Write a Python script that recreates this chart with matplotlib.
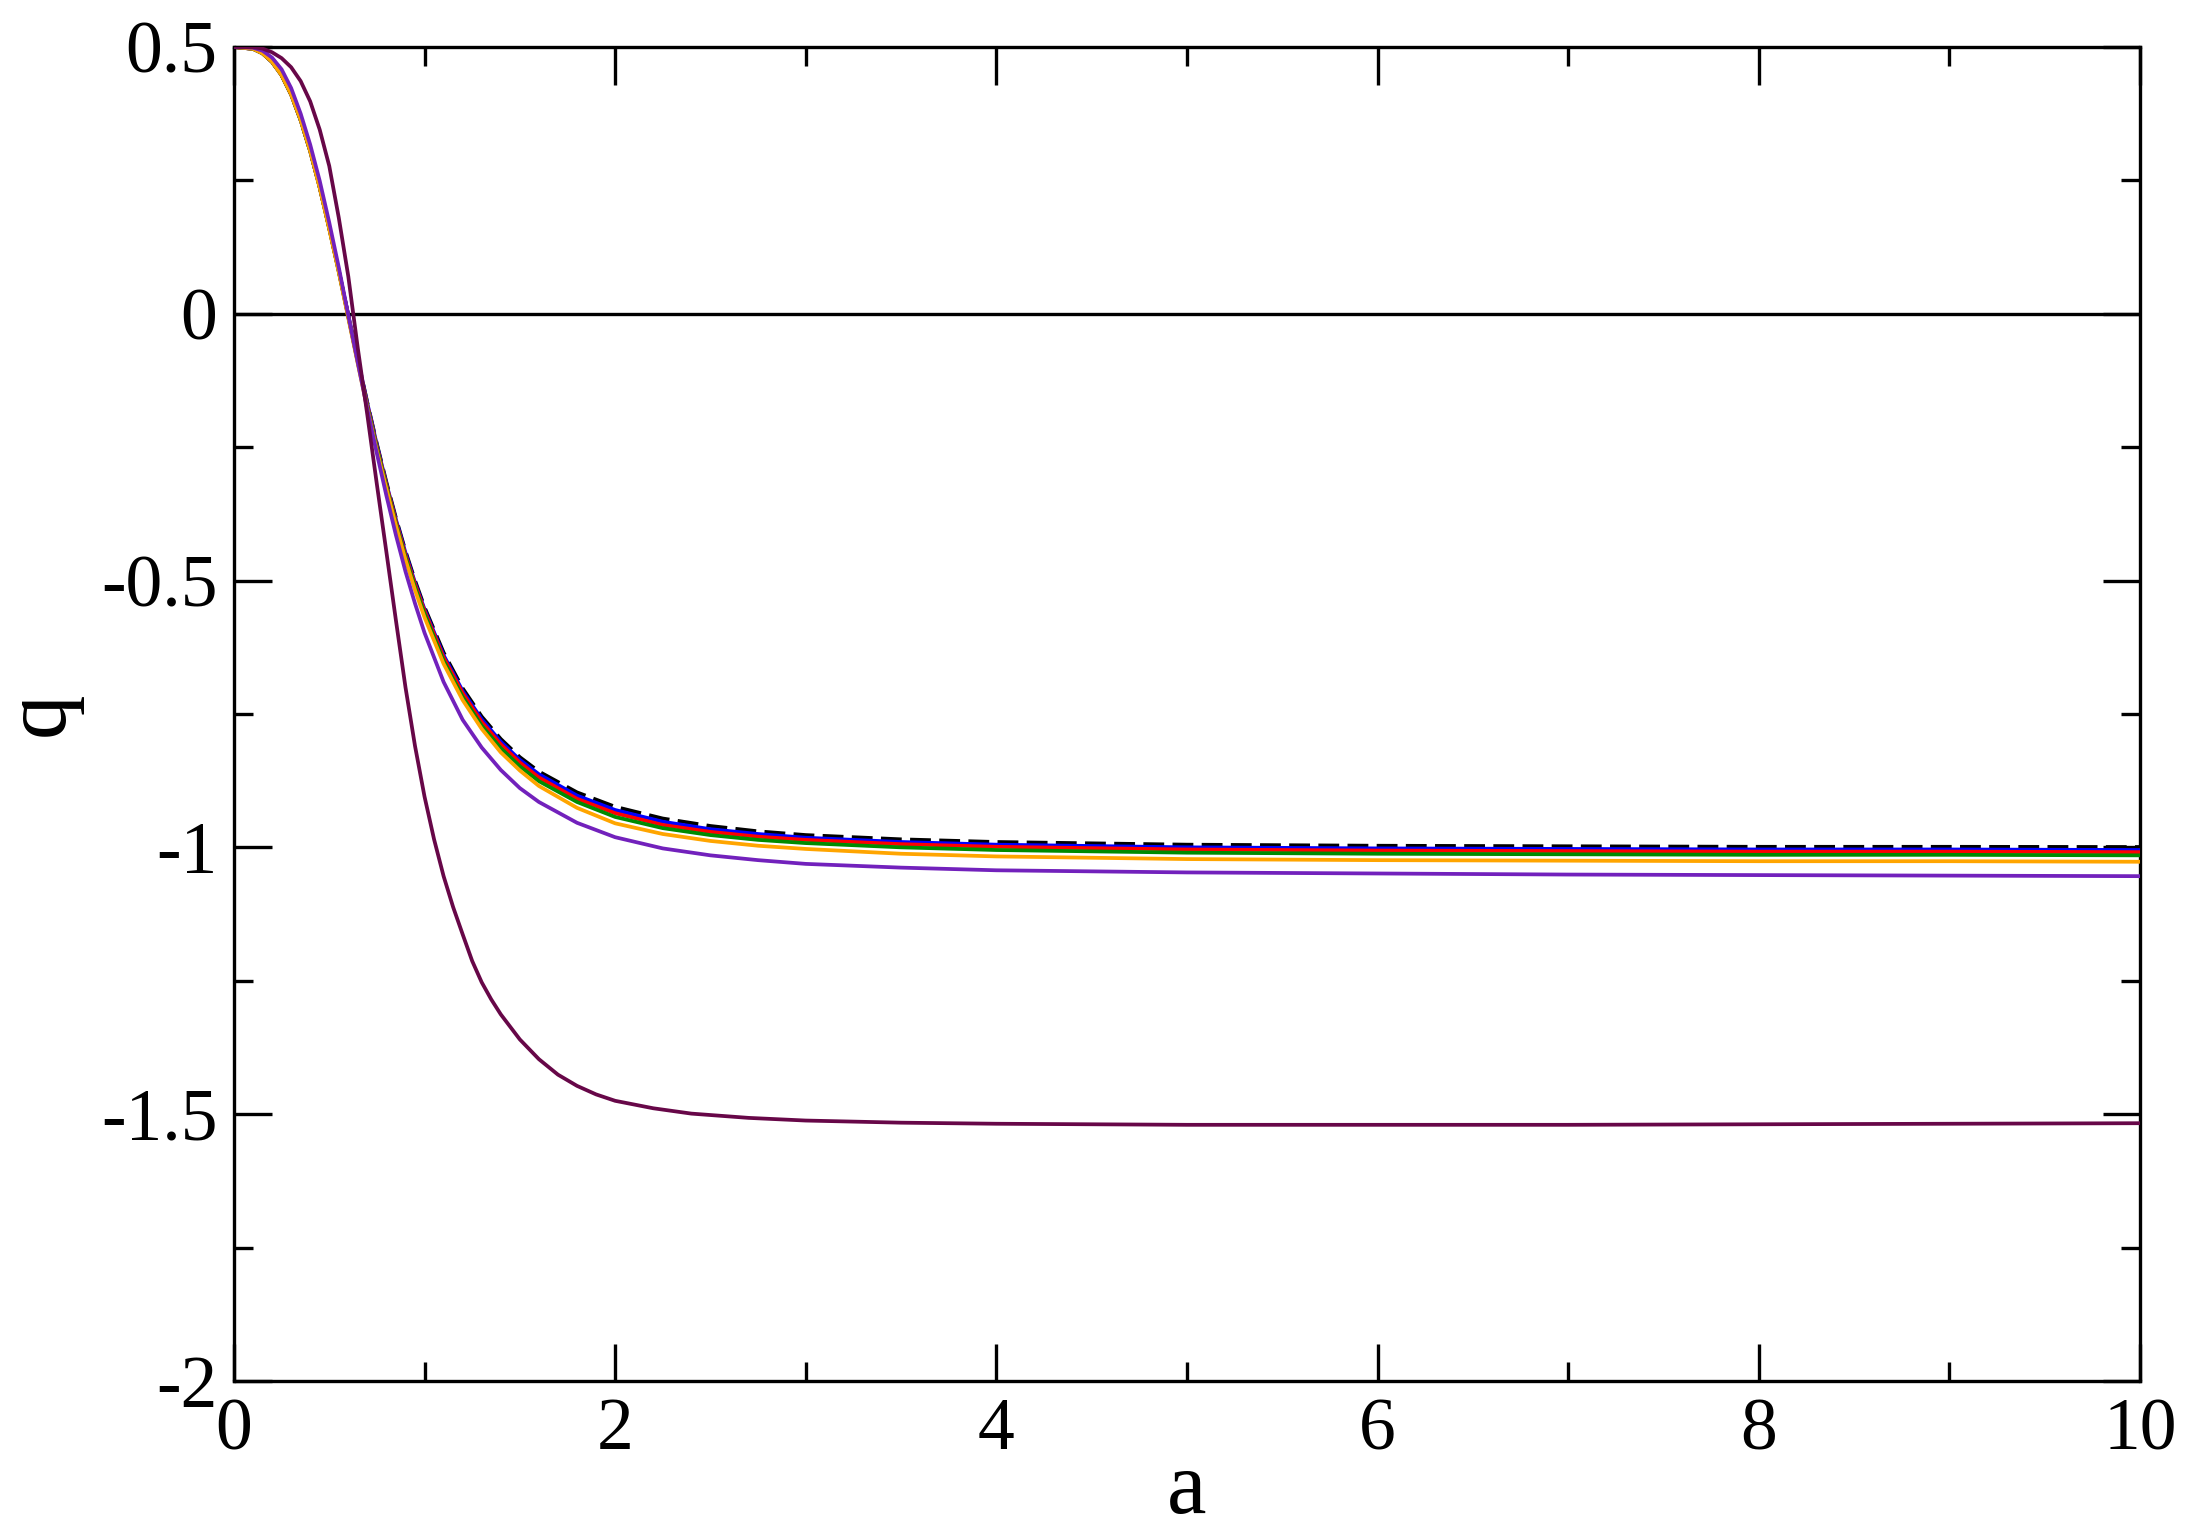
import matplotlib
matplotlib.use("Agg")
import matplotlib.pyplot as plt
from matplotlib.ticker import MultipleLocator, FuncFormatter

plt.rcParams["font.family"] = ["Liberation Serif", "DejaVu Serif"]
plt.rcParams["axes.unicode_minus"] = False
plt.rcParams["lines.scale_dashes"] = False

# scale factor a (grid shared by the upper bundle of curves)
a_vals = [0, 0.1, 0.15, 0.2, 0.25, 0.3, 0.35, 0.4, 0.45, 0.5, 0.55, 0.6, 0.65,
          0.7, 0.75, 0.8, 0.85, 0.9, 0.95, 1.0, 1.1, 1.2, 1.3, 1.4, 1.5, 1.6,
          1.8, 2.0, 2.25, 2.5, 2.75, 3.0, 3.5, 4.0, 5.0, 6.0, 7.0, 8.0, 9.0, 10.0]

# deceleration parameter q
q_ref = [0.5, 0.4965, 0.488, 0.472, 0.447, 0.411, 0.363, 0.305, 0.237, 0.161,
         0.081, -0.003, -0.086, -0.167, -0.244, -0.316, -0.383, -0.445, -0.500,
         -0.550, -0.635, -0.702, -0.755, -0.797, -0.831, -0.858, -0.897, -0.924,
         -0.946, -0.960, -0.970, -0.977, -0.985, -0.990, -0.995, -0.997, -0.998,
         -0.999, -0.999, -0.9994]
q_blue = [0.5, 0.4965, 0.488, 0.472, 0.447, 0.411, 0.363, 0.305, 0.237, 0.161,
          0.081, -0.003, -0.087, -0.168, -0.246, -0.319, -0.386, -0.448, -0.504,
          -0.554, -0.640, -0.707, -0.760, -0.802, -0.836, -0.863, -0.903, -0.930,
          -0.952, -0.966, -0.975, -0.982, -0.990, -0.995, -1.000, -1.002, -1.003,
          -1.004, -1.004, -1.005]
q_red = [0.5, 0.4965, 0.488, 0.472, 0.447, 0.411, 0.363, 0.305, 0.237, 0.160,
         0.080, -0.005, -0.089, -0.171, -0.249, -0.321, -0.389, -0.452, -0.507,
         -0.557, -0.644, -0.711, -0.765, -0.807, -0.841, -0.869, -0.909, -0.936,
         -0.958, -0.971, -0.980, -0.986, -0.994, -0.999, -1.004, -1.006, -1.007,
         -1.008, -1.008, -1.009]
q_green = [0.5, 0.4965, 0.488, 0.472, 0.447, 0.411, 0.363, 0.305, 0.237, 0.160,
           0.079, -0.006, -0.091, -0.174, -0.252, -0.324, -0.393, -0.456, -0.512,
           -0.562, -0.650, -0.718, -0.772, -0.814, -0.848, -0.876, -0.915, -0.943,
           -0.964, -0.977, -0.986, -0.992, -1.000, -1.005, -1.010, -1.012, -1.013,
           -1.014, -1.014, -1.015]
q_orange = [0.5, 0.4965, 0.488, 0.472, 0.447, 0.411, 0.363, 0.305, 0.236, 0.159,
            0.078, -0.008, -0.094, -0.178, -0.257, -0.328, -0.397, -0.461, -0.518,
            -0.569, -0.656, -0.724, -0.778, -0.822, -0.856, -0.885, -0.926, -0.955,
            -0.975, -0.988, -0.997, -1.003, -1.012, -1.017, -1.022, -1.024, -1.025,
            -1.026, -1.026, -1.027]
q_purple = [0.5, 0.4985, 0.493, 0.480, 0.458, 0.423, 0.375, 0.317, 0.249, 0.171,
            0.087, -0.003, -0.092, -0.179, -0.262, -0.341, -0.415, -0.483, -0.543,
            -0.598, -0.690, -0.761, -0.813, -0.855, -0.889, -0.915, -0.954, -0.981,
            -1.002, -1.015, -1.024, -1.031, -1.038, -1.043, -1.047, -1.049, -1.051,
            -1.052, -1.053, -1.054]

# lowest curve, read on a finer grid around its knee
a_maroon = [0, 0.1, 0.15, 0.2, 0.25, 0.3, 0.35, 0.4, 0.45, 0.5, 0.55, 0.6, 0.65,
            0.7, 0.75, 0.8, 0.85, 0.9, 0.95, 1.0, 1.05, 1.1, 1.15, 1.2, 1.25, 1.3,
            1.35, 1.4, 1.5, 1.6, 1.7, 1.8, 1.9, 2.0, 2.2, 2.4, 2.7, 3.0, 3.5, 4.0,
            5.0, 6.0, 7.0, 8.0, 9.0, 10.0]
q_maroon = [0.5, 0.4995, 0.497, 0.490, 0.479, 0.462, 0.436, 0.398, 0.345, 0.277,
            0.180, 0.070, -0.065, -0.190, -0.320, -0.447, -0.575, -0.700, -0.810,
            -0.905, -0.985, -1.054, -1.112, -1.163, -1.213, -1.253, -1.285, -1.313,
            -1.360, -1.397, -1.426, -1.447, -1.463, -1.475, -1.489, -1.499, -1.507,
            -1.512, -1.516, -1.518, -1.520, -1.520, -1.520, -1.519, -1.518, -1.517]

series = [
    (a_vals, q_blue, "#0000ff"),
    (a_vals, q_red, "#ff0000"),
    (a_vals, q_green, "#008b00"),
    (a_vals, q_orange, "#ffa500"),
    (a_vals, q_purple, "#7221bc"),
    (a_maroon, q_maroon, "#670748"),
]

fig = plt.figure(figsize=(22.07, 15.39), dpi=100)
ax = fig.add_axes([0.106, 0.1027, 0.8636, 0.8668])

ax.axhline(0, color="black", lw=2.4, zorder=1)
ax.plot(a_vals, q_ref, color="black", lw=2.7, dashes=(15, 6), zorder=2)
for i, (x, q, c) in enumerate(series):
    ax.plot(x, q, color=c, lw=2.7, zorder=3 + i)

ax.set_xlim(0, 10)
ax.set_ylim(-2, 0.5)
ax.xaxis.set_major_locator(MultipleLocator(2))
ax.xaxis.set_minor_locator(MultipleLocator(1))
ax.yaxis.set_major_locator(MultipleLocator(0.5))
ax.yaxis.set_minor_locator(MultipleLocator(0.25))
fmt = FuncFormatter(lambda v, p: "%g" % v)
ax.xaxis.set_major_formatter(fmt)
ax.yaxis.set_major_formatter(fmt)

ax.tick_params(which="both", direction="in", top=True, right=True, width=2.4,
               labelsize=53, pad=12)
ax.tick_params(which="major", length=27)
ax.tick_params(which="minor", length=13.5)
for s in ax.spines.values():
    s.set_linewidth(2.4)

ax.set_xlabel("a", fontsize=64, labelpad=-10)
ax.set_ylabel("q", fontsize=64, labelpad=14)

fig.savefig("out.png", dpi=100)
